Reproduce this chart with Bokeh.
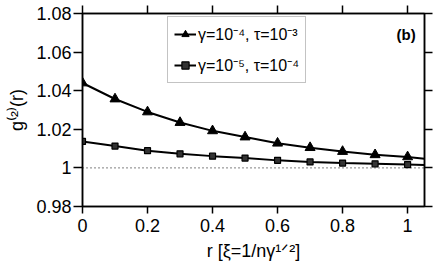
from bokeh.plotting import figure
from bokeh.models import (Range1d, LinearAxis, FixedTicker, PrintfTickFormatter,
                          CustomJSTickFormatter, Label, Legend, LegendItem, Span)
from bokeh.embed import file_html
from bokeh.resources import INLINE

# ---- data ----
r = [0.0, 0.1, 0.2, 0.3, 0.4, 0.5, 0.6, 0.7, 0.8, 0.9, 1.0]
g_a = [1.0440, 1.0357, 1.0290, 1.0235, 1.0192, 1.0160, 1.0128, 1.0105, 1.0085, 1.0068, 1.0057]
g_b = [1.0137, 1.0113, 1.0089, 1.0073, 1.0061, 1.0051, 1.0039, 1.0031, 1.0025, 1.0021, 1.0017]
# curves continue to the right edge of the frame
r_edge = 1.052
g_a_edge = 1.0048
g_b_edge = 1.0015

label_a = "γ=10⁻⁴, τ=10⁻³"
label_b = "γ=10⁻⁵, τ=10⁻⁴"
x_title = "r [ξ=1/nγ¹ᐟ²]"
y_title = "g⁽²⁾(r)"
x_ticks = [0, 0.2, 0.4, 0.6, 0.8, 1.0]
y_ticks = [0.98, 1.0, 1.02, 1.04, 1.06, 1.08]
x_lim = (0, 1.052)
y_lim = (0.98, 1.08)

FONT = "Liberation Sans"

p = figure(width=436, height=267, x_range=Range1d(*x_lim), y_range=Range1d(*y_lim),
           output_backend="svg", toolbar_location=None,
           min_border_left=82, min_border_right=12, min_border_top=13, min_border_bottom=61)
p.xgrid.visible = False
p.ygrid.visible = False
p.outline_line_color = "black"
p.outline_line_width = 1.5

bottom = p.below[0]
left = p.left[0]
top = LinearAxis()
right = LinearAxis()
p.add_layout(top, "above")
p.add_layout(right, "right")

for ax in [bottom, top]:
    ax.ticker = FixedTicker(ticks=x_ticks)
for ax in [left, right]:
    ax.ticker = FixedTicker(ticks=y_ticks)

for ax in [bottom, left, top, right]:
    ax.formatter = PrintfTickFormatter(format="%g")
    ax.axis_line_color = "black"
    ax.axis_line_width = 1.5
    ax.major_tick_line_color = "black"
    ax.major_tick_line_width = 1.5
    ax.major_tick_out = 8
    ax.major_tick_in = 0
    ax.minor_tick_out = 0
    ax.minor_tick_in = 0
    ax.major_label_text_font = FONT
    ax.major_label_text_font_size = "18px"
    ax.major_label_text_color = "black"
    ax.axis_label_text_font = FONT
    ax.axis_label_text_font_size = "18px"
    ax.axis_label_text_font_style = "normal"
    ax.axis_label_text_color = "black"

for ax in [top, right]:
    ax.formatter = CustomJSTickFormatter(code="return ''")
    ax.major_label_standoff = 0

bottom.major_tick_out = 7
bottom.major_label_standoff = 5
bottom.axis_label = x_title
bottom.axis_label_standoff = 6
left.major_tick_out = 9
left.major_label_standoff = 2
left.axis_label = y_title
left.axis_label_standoff = 6

# reference line at g=1
p.add_layout(Span(location=1.0, dimension="width", line_color="black",
                  line_width=1, line_dash="1 3"))

la = p.line(r + [r_edge], g_a + [g_a_edge], line_color="black", line_width=2)
ma = p.scatter(r, g_a, marker="triangle", size=10, fill_color="black", line_color="black")
lb = p.line(r + [r_edge], g_b + [g_b_edge], line_color="black", line_width=2)
mb = p.scatter(r, g_b, marker="square", size=6, fill_color="#333333", line_color="black",
               line_width=1.2)

legend = Legend(items=[LegendItem(label=label_a, renderers=[la, ma]),
                       LegendItem(label=label_b, renderers=[lb, mb])],
                location=(85, 123), padding=6, spacing=9, glyph_width=22, glyph_height=18,
                label_height=18, label_standoff=2, margin=0,
                label_text_font=FONT, label_text_font_size="16px", label_text_color="black",
                border_line_color="#888888", border_line_width=1.5,
                background_fill_color="white", background_fill_alpha=1)
p.add_layout(legend, "center")

# panel tag
p.add_layout(Label(x=1.025, y=1.0693, text="(b)", text_font=FONT, text_font_size="15px",
                   text_align="right", text_baseline="alphabetic", text_color="black",
                   text_font_style="bold"))

open("out.html", "w").write(file_html(p, INLINE))
